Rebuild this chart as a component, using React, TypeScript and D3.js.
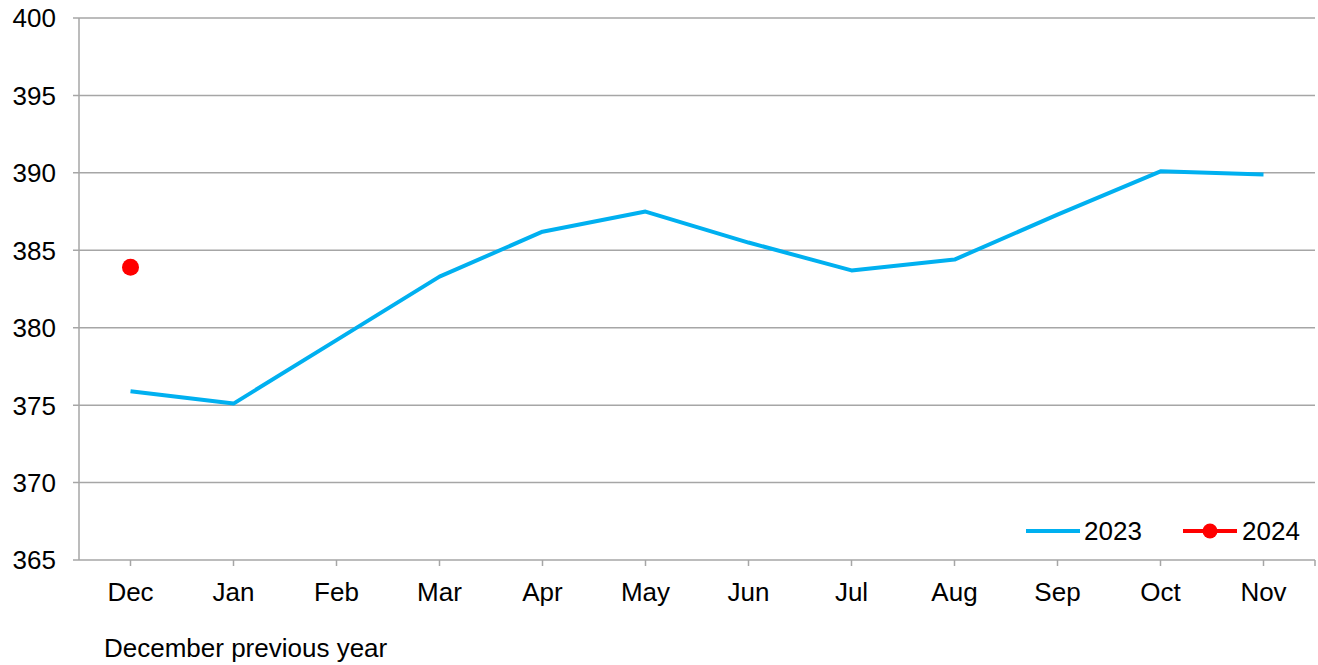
import React from "react";
import * as d3 from "d3";

const categories = ["Dec", "Jan", "Feb", "Mar", "Apr", "May", "Jun", "Jul", "Aug", "Sep", "Oct", "Nov"];
const series2023 = [375.9, 375.1, 379.2, 383.3, 386.2, 387.5, 385.5, 383.7, 384.4, 387.3, 390.1, 389.9];
const series2024 = [383.9];
const yTicks = [365, 370, 375, 380, 385, 390, 395, 400];
const footnote = "December previous year";

const W = 1318;
const H = 665;
const left = 79;
const right = 1315;
const top = 18;
const bottom = 560;
const FONT = "'Liberation Sans', Arial, sans-serif";
const FS = 26;
const BLUE = "#00B0F0";
const RED = "#FF0000";
const GRID = "#A6A6A6";

export default function App() {
  const x = d3.scalePoint<string>().domain(categories).range([left, right]).padding(0.5);
  const y = d3.scaleLinear().domain([365, 400]).range([bottom, top]);
  const line = d3
    .line<number>()
    .x((_, i) => x(categories[i]) as number)
    .y((d) => y(d));

  return (
    <svg width={W} height={H} style={{ position: "absolute", left: 0, top: 0, background: "#fff" }}>
      {yTicks.map((t) => (
        <g key={t}>
          <line x1={73} x2={right} y1={y(t)} y2={y(t)} stroke={GRID} strokeWidth={1.5} />
          <text x={56} y={y(t)} dy="0.36em" textAnchor="end" fontFamily={FONT} fontSize={FS} fill="#000">
            {t}
          </text>
        </g>
      ))}
      <line x1={left} x2={left} y1={top} y2={bottom} stroke={GRID} strokeWidth={1.5} />
      {categories.map((c) => (
        <g key={c}>
          <line x1={x(c)} x2={x(c)} y1={bottom} y2={bottom + 6} stroke={GRID} strokeWidth={1.5} />
          <text x={x(c)} y={601} textAnchor="middle" fontFamily={FONT} fontSize={FS} fill="#000">
            {c}
          </text>
        </g>
      ))}
      <line x1={right} x2={right} y1={bottom} y2={bottom + 6} stroke={GRID} strokeWidth={1.5} />
      <path d={line(series2023) || ""} fill="none" stroke={BLUE} strokeWidth={4} strokeLinejoin="round" />
      {series2024.map((v, i) => (
        <circle key={i} cx={x(categories[i])} cy={y(v)} r={8.5} fill={RED} />
      ))}
      <g>
        <line x1={1026} x2={1080} y1={531} y2={531} stroke={BLUE} strokeWidth={4} />
        <text x={1084} y={540} fontFamily={FONT} fontSize={FS} fill="#000">2023</text>
        <line x1={1183} x2={1237} y1={531} y2={531} stroke={RED} strokeWidth={4} />
        <circle cx={1210} cy={531} r={7.5} fill={RED} />
        <text x={1242} y={540} fontFamily={FONT} fontSize={FS} fill="#000">2024</text>
      </g>
      <text x={104} y={657} fontFamily={FONT} fontSize={FS} fill="#000">
        {footnote}
      </text>
    </svg>
  );
}
